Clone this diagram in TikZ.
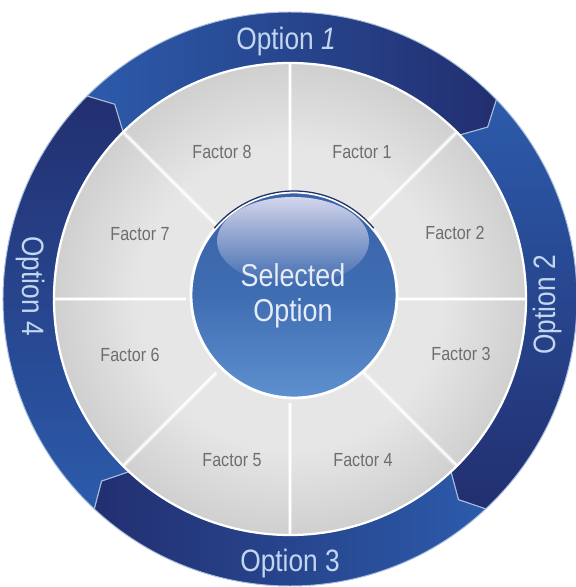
\documentclass[tikz,border=0pt]{standalone}
\usepackage{fontspec}
\newfontfamily\narrowsans[FakeStretch=0.85]{Liberation Sans}
\definecolor{ringlight}{HTML}{2C5BAB}
\definecolor{ringdark}{HTML}{222F70}
\definecolor{ringedge}{HTML}{A9BEDD}
\definecolor{optiontext}{HTML}{C3D6F0}
\definecolor{factortext}{HTML}{6E6E6E}
\definecolor{silverlight}{HTML}{E6E6E6}
\definecolor{silvermid}{HTML}{CDCDCD}
\definecolor{silverdark}{HTML}{A2A2A2}
\definecolor{knobtop}{HTML}{3A62A8}
\definecolor{knobblue}{HTML}{3F6DB2}
\definecolor{knoblow}{HTML}{5E90CF}
\definecolor{knobhigh}{HTML}{D4D6EC}
\definecolor{knobrim}{HTML}{1D2E62}
\definecolor{knobtextcol}{HTML}{E6ECF6}
\usepackage{tikz}
\usetikzlibrary{positioning,calc,fadings}
\pgfdeclareradialshading{silverdisk}{\pgfpoint{0bp}{0bp}}{color(0bp)=(silverlight); color(16bp)=(silverlight); color(26bp)=(silvermid); color(35bp)=(silverdark); color(50bp)=(silverdark)}
\tikzfading[name=glossfade, top color=transparent!0, middle color=transparent!75, bottom color=transparent!100]

\begin{document}
\begin{tikzpicture}[x=0.025cm, y=0.025cm,
  ringband/.style={draw=ringedge, line width=0.7pt, line join=round},
  optlabel/.style={font=\narrowsans\fontsize{22}{24}\selectfont, text=optiontext, inner sep=0pt},
  factor/.style={font=\narrowsans\fontsize{13.5}{15}\selectfont, text=factortext, inner sep=0pt},
  sepline/.style={draw=white, line width=1.1pt, preaction={draw=white, opacity=0.4, line width=3.5pt}},
  knobtext/.style={font=\narrowsans\fontsize{22.5}{25}\selectfont, text=knobtextcol, align=center, inner sep=0pt}]

\useasboundingbox (-290,-288) rectangle (286,299);

% ring of options, arrows running clockwise
\shadedraw[ringband, left color=ringlight, right color=ringdark]
  (135:287) arc[start angle=135, end angle=44, radius=287] -- (41:262)
  -- (44:236) arc[start angle=44, end angle=135, radius=236] -- (132:262) -- cycle;
\shadedraw[ringband, top color=ringlight, bottom color=ringdark]
  (44:287) arc[start angle=44, end angle=-47, radius=287] -- (-50:262)
  -- (-47:236) arc[start angle=-47, end angle=44, radius=236] -- (41:262) -- cycle;
\shadedraw[ringband, left color=ringdark, right color=ringlight]
  (-47:287) arc[start angle=-47, end angle=-133, radius=287] -- (-136:262)
  -- (-133:236) arc[start angle=-133, end angle=-47, radius=236] -- (-50:262) -- cycle;
\shadedraw[ringband, top color=ringdark, bottom color=ringlight]
  (227:287) arc[start angle=227, end angle=135, radius=287] -- (132:262)
  -- (135:236) arc[start angle=135, end angle=227, radius=236] -- (224:262) -- cycle;

% silver disk with eight sectors
\shadedraw[shading=silverdisk, draw=white, line width=1.6pt] (0,0) circle[radius=236];
\draw[sepline] (0:104) -- (0:235);
\draw[sepline] (45:104) -- (45:235);
\draw[sepline] (90:104) -- (90:235);
\draw[sepline] (135:104) -- (135:235);
\draw[sepline] (180:104) -- (180:235);
\draw[sepline] (225:104) -- (225:235);
\draw[sepline] (270:104) -- (270:235);
\draw[sepline] (315:104) -- (315:235);

% centre knob
\shadedraw[top color=knobtop, bottom color=knoblow, middle color=knobblue, draw=white, line width=2pt] (4,4) circle[radius=103];
\fill[knobhigh, path fading=glossfade] (3,58) ellipse[x radius=76, y radius=44];
\draw[knobrim, line width=0.9pt] (4,4) ++(40:104) arc[start angle=40, end angle=140, radius=104];

\node[knobtext] (selected) at (3,3) {Selected\\Option};

\node[optlabel] (opt1) at (-4,257) {Option \textit{1}};
\node[optlabel, rotate=90] (opt2) at (258,-6) {Option 2};
\node[optlabel] (opt3) at (0,-264) {Option 3};
\node[optlabel, rotate=-90] (opt4) at (-259,13) {Option 4};

\node[factor] (f1) at (72,147) {Factor 1};
\node[factor] (f2) at (165,66) {Factor 2};
\node[factor] (f3) at (171,-55) {Factor 3};
\node[factor] (f4) at (73,-161) {Factor 4};
\node[factor] (f5) at (-58,-161) {Factor 5};
\node[factor] (f6) at (-160,-56) {Factor 6};
\node[factor] (f7) at (-150,65) {Factor 7};
\node[factor] (f8) at (-68,147) {Factor 8};
\end{tikzpicture}
\end{document}
